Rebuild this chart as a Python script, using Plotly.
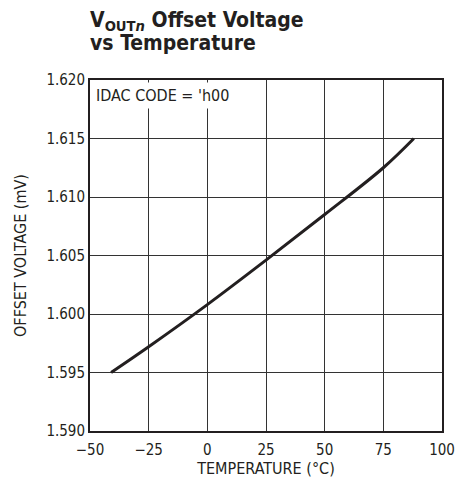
import plotly.graph_objects as go

# values
temp_c = [-41, -25, 0, 25, 50, 75, 88]
offset_mv = [1.5950, 1.5972, 1.6008, 1.6046, 1.6085, 1.6125, 1.6150]

x_ticks = [-50, -25, 0, 25, 50, 75, 100]
x_labels = ['\u221250', '\u221225', '0', '25', '50', '75', '100']
y_ticks = [1.590, 1.595, 1.600, 1.605, 1.610, 1.615, 1.620]

font_main = 'DejaVu Sans Condensed, Liberation Sans Narrow, Roboto, sans-serif'

fig = go.Figure()
fig.add_trace(go.Scatter(x=temp_c, y=offset_mv, mode='lines',
                         line=dict(color='#231f20', width=3, shape='spline', smoothing=1.0),
                         showlegend=False))

fig.update_layout(
    width=458, height=487,
    margin=dict(l=90, r=16, t=80, b=56, autoexpand=False),
    paper_bgcolor='white', plot_bgcolor='white',
    font=dict(family=font_main, size=15, color='#231f20'),
    xaxis=dict(range=[-50, 100], tickvals=x_ticks, ticktext=x_labels,
               showgrid=True, gridcolor='#333333', gridwidth=1,
               showline=True, linecolor='#231f20', linewidth=2, mirror=True,
               ticks='', zeroline=False, ticklabelstandoff=4, automargin=False,
               title=dict(text='TEMPERATURE (\u00b0C)', standoff=2,
                          font=dict(family=font_main, size=16))),
    yaxis=dict(range=[1.590, 1.620], tickvals=y_ticks, tickformat='.3f',
               showgrid=True, gridcolor='#333333', gridwidth=1,
               showline=True, linecolor='#231f20', linewidth=2, mirror=True,
               ticks='', zeroline=False, automargin=False,
               title=dict(text='OFFSET VOLTAGE (mV)', standoff=16,
                          font=dict(family=font_main, size=16))),
)

# title block, two lines
fig.add_annotation(xref='paper', yref='paper', x=0, y=1, xanchor='left', yanchor='middle',
                   yshift=59, xshift=-2, showarrow=False,
                   text='<b>V<sub>OUT<i>n</i></sub> Offset Voltage</b>',
                   font=dict(family=font_main, size=21, color='#231f20'))
fig.add_annotation(xref='paper', yref='paper', x=0, y=1, xanchor='left', yanchor='middle',
                   yshift=37, xshift=-2, showarrow=False,
                   text='<b>vs Temperature</b>',
                   font=dict(family=font_main, size=21, color='#231f20'))

# condition label inside plot
fig.add_annotation(xref='paper', yref='paper', x=0, y=1, xanchor='left', yanchor='top',
                   xshift=2, yshift=-2, showarrow=False, bgcolor='white', borderpad=3,
                   text="IDAC CODE = 'h00",
                   font=dict(family=font_main, size=16, color='#231f20'))

fig.write_html("out.html", config={'displayModeBar': False},
               post_script="document.body.style.margin='0';")
